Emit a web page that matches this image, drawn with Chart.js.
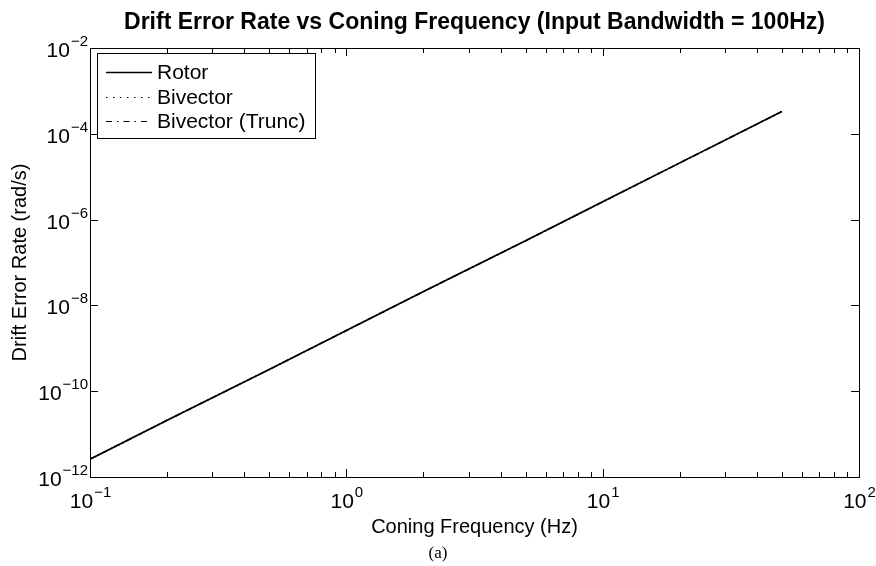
<!DOCTYPE html>
<html>

<head>
    <title>Drift Error Rate</title>
    <script src="https://cdn.jsdelivr.net/npm/chart.js"></script>
    <style>
        body { margin: 0; background: #fff; }
        #wrap { width: 876px; height: 566px; }
    </style>
</head>

<body>
    <div id="wrap">
        <canvas id="driftChart" width="876" height="566"></canvas>
    </div>

    <script>
        // Coning frequency (Hz) and drift error rate (rad/s) for each method
        const coningFreq = [0.1, 0.2, 0.5, 1, 2, 5, 10, 20, 50];
        const rotorDrift = [2.6e-12, 2.1e-11, 3.2e-10, 2.6e-9, 2.1e-8, 3.2e-7, 2.6e-6, 2.1e-5, 3.3e-4];
        const bivectorDrift = [2.6e-12, 2.1e-11, 3.2e-10, 2.6e-9, 2.1e-8, 3.2e-7, 2.6e-6, 2.1e-5, 3.3e-4];
        const truncDrift = [2.6e-12, 2.1e-11, 3.2e-10, 2.6e-9, 2.1e-8, 3.2e-7, 2.6e-6, 2.1e-5, 3.3e-4];

        const seriesNames = ["Rotor", "Bivector", "Bivector (Trunc)"];
        const xTickExps = [-1, 0, 1, 2];
        const yTickExps = [-12, -10, -8, -6, -4, -2];

        const FONT = "'Liberation Sans', Arial, Helvetica, sans-serif";

        function toPoints(ys) {
            return coningFreq.map((f, i) => ({ x: f, y: ys[i] }));
        }

        // draws "10" with a raised exponent, anchored by align
        function drawPow(ctx, exp, x, y, align) {
            const base = "10";
            const sup = String(exp).replace("-", "\u2212");
            ctx.font = "21px " + FONT;
            const wb = ctx.measureText(base).width;
            ctx.font = "15px " + FONT;
            const ws = ctx.measureText(sup).width;
            let x0 = x;
            if (align === "center") x0 = x - (wb + ws) / 2;
            if (align === "right") x0 = x - (wb + ws);
            ctx.textAlign = "left";
            ctx.textBaseline = "alphabetic";
            ctx.font = "21px " + FONT;
            ctx.fillText(base, x0, y);
            ctx.font = "15px " + FONT;
            ctx.fillText(sup, x0 + wb + 1, y - 11);
        }

        // frame, ticks, labels, titles and legend in matlab style
        const decorPlugin = {
            id: "decor",
            afterDraw(chart) {
                const ctx = chart.ctx;
                const area = chart.chartArea;
                const xs = chart.scales.x;
                const ys = chart.scales.y;
                ctx.save();
                ctx.strokeStyle = "#000";
                ctx.fillStyle = "#000";
                ctx.lineWidth = 1;

                // box
                ctx.strokeRect(Math.round(area.left) + 0.5, Math.round(area.top) + 0.5,
                    Math.round(area.right - area.left), Math.round(area.bottom - area.top));

                // x ticks, majors and minors on top and bottom
                ctx.beginPath();
                for (let e = -1; e <= 1; e++) {
                    for (let k = 1; k <= 10; k++) {
                        const v = k * Math.pow(10, e);
                        const px = Math.round(xs.getPixelForValue(v)) + 0.5;
                        const len = (k === 1 || k === 10) ? 8 : 5;
                        ctx.moveTo(px, area.bottom);
                        ctx.lineTo(px, area.bottom - len);
                        ctx.moveTo(px, area.top);
                        ctx.lineTo(px, area.top + len);
                    }
                }
                // y ticks on left and right
                yTickExps.forEach((e) => {
                    const py = Math.round(ys.getPixelForValue(Math.pow(10, e))) + 0.5;
                    ctx.moveTo(area.left, py);
                    ctx.lineTo(area.left + 8, py);
                    ctx.moveTo(area.right, py);
                    ctx.lineTo(area.right - 8, py);
                });
                ctx.stroke();

                // tick labels
                xTickExps.forEach((e) => {
                    const px = xs.getPixelForValue(Math.pow(10, e));
                    drawPow(ctx, e, px, area.bottom + 31, "center");
                });
                yTickExps.forEach((e) => {
                    const py = ys.getPixelForValue(Math.pow(10, e));
                    drawPow(ctx, e, area.left - 3, py + 9, "right");
                });

                // titles
                ctx.textAlign = "center";
                ctx.textBaseline = "middle";
                ctx.font = "bold 23px " + FONT;
                ctx.fillText("Drift Error Rate vs Coning Frequency (Input Bandwidth = 100Hz)", (area.left + area.right) / 2, 23);
                ctx.font = "20px " + FONT;
                ctx.fillText("Coning Frequency (Hz)", (area.left + area.right) / 2, 527);
                ctx.save();
                ctx.translate(20, (area.top + area.bottom) / 2);
                ctx.rotate(-Math.PI / 2);
                ctx.fillText("Drift Error Rate (rad/s)", 0, 0);
                ctx.restore();
                ctx.font = "17px 'Liberation Serif', 'Times New Roman', serif";
                ctx.fillText("(a)", 438, 554);

                // legend
                const lx = area.left + 7, ly = area.top + 5, lw = 218, lh = 85;
                ctx.fillStyle = "#fff";
                ctx.fillRect(lx, ly, lw, lh);
                ctx.strokeRect(lx + 0.5, ly + 0.5, lw, lh);
                ctx.fillStyle = "#000";
                ctx.textAlign = "left";
                ctx.font = "21px " + FONT;
                chart.data.datasets.forEach((ds, i) => {
                    const ry = Math.round(ly + 19 + i * 24.5) + 0.5;
                    ctx.save();
                    ctx.setLineDash(ds.legendDash);
                    ctx.lineWidth = ds.legendWidth;
                    ctx.beginPath();
                    ctx.moveTo(lx + 9, ry);
                    ctx.lineTo(lx + 55, ry);
                    ctx.stroke();
                    ctx.restore();
                    ctx.fillText(ds.label, lx + 60, ry + 1);
                });
                ctx.restore();
            }
        };

        const ctx = document.getElementById("driftChart").getContext("2d");
        new Chart(ctx, {
            type: "line",
            data: {
                datasets: [
                    {
                        label: seriesNames[0],
                        data: toPoints(rotorDrift),
                        borderColor: "#000",
                        borderWidth: 1.6,
                        borderDash: [],
                        legendDash: [],
                        legendWidth: 1.4,
                        pointRadius: 0,
                        order: 1,
                    },
                    {
                        label: seriesNames[1],
                        data: toPoints(bivectorDrift),
                        borderColor: "#000",
                        borderWidth: 1.5,
                        borderDash: [1, 3],
                        legendDash: [1.5, 5.5],
                        legendWidth: 1,
                        pointRadius: 0,
                        order: 2,
                    },
                    {
                        label: seriesNames[2],
                        data: toPoints(truncDrift),
                        borderColor: "#000",
                        borderWidth: 1.5,
                        borderDash: [6, 3, 1.5, 3],
                        legendDash: [6, 5, 1.5, 5],
                        legendWidth: 1.2,
                        pointRadius: 0,
                        order: 3,
                    },
                ],
            },
            options: {
                responsive: false,
                animation: false,
                events: [],
                layout: {
                    padding: { left: 90, top: 48, right: 17, bottom: 89 },
                },
                plugins: {
                    legend: { display: false },
                    tooltip: { enabled: false },
                    title: { display: false },
                },
                scales: {
                    x: {
                        type: "logarithmic",
                        display: false,
                        min: 0.1,
                        max: 100,
                    },
                    y: {
                        type: "logarithmic",
                        display: false,
                        min: 1e-12,
                        max: 1e-2,
                    },
                },
            },
            plugins: [decorPlugin],
        });
    </script>
</body>

</html>
